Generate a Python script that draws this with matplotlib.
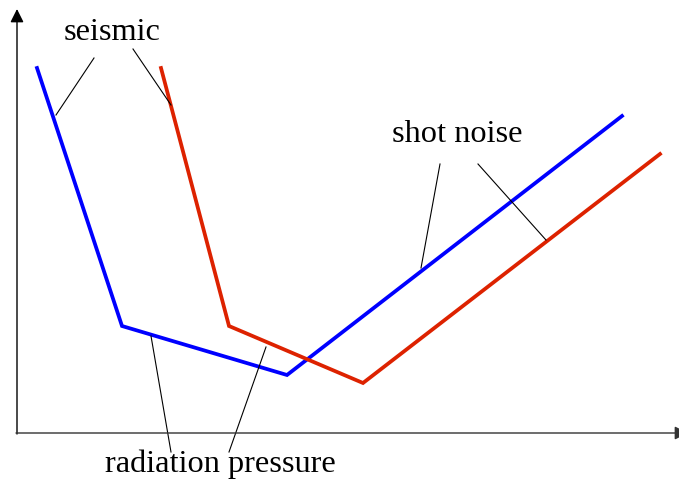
import matplotlib.pyplot as plt

# Noise curves (schematic, drawing units)
blue_x = [37, 122, 287, 622]
blue_y = [68, 326, 375, 116]
red_x = [161, 229, 363, 660]
red_y = [68, 326, 383, 154]

# Labels and their pointer lines: (text, text position, [(start, end), ...])
labels = [
    ("seismic", (112, 32), [((94, 58), (56, 115)), ((133, 49), (171, 105))]),
    ("shot noise", (457, 134), [((440, 164), (421, 268)), ((478, 164), (546, 240))]),
    ("radiation pressure", (220, 464), [((171, 452), (151, 336)), ((229, 452), (266, 347))]),
]

fig = plt.figure(figsize=(6.79, 4.79), dpi=100)
ax = fig.add_axes([0, 0, 1, 1])
ax.set_xlim(0, 679)
ax.set_ylim(479, 0)
ax.axis('off')

# Axes with arrow heads
ax.annotate('', xy=(17, 9), xytext=(17, 434), annotation_clip=False,
            arrowprops=dict(arrowstyle='-|>', color='black', lw=1.0,
                            mutation_scale=20, shrinkA=0, shrinkB=0))
ax.annotate('', xy=(688, 433), xytext=(16, 433), annotation_clip=False,
            arrowprops=dict(arrowstyle='-|>', color='#333333', lw=1.0,
                            mutation_scale=20, shrinkA=0, shrinkB=0))

ax.plot(blue_x, blue_y, color='#0000ff', lw=2.7, solid_joinstyle='miter')
ax.plot(red_x, red_y, color='#dd2200', lw=2.7, solid_joinstyle='miter')

for text, (tx, ty), pointers in labels:
    ax.text(tx, ty, text, fontsize=23.3, family='Liberation Serif',
            ha='center', va='center')
    for (x0, y0), (x1, y1) in pointers:
        ax.plot([x0, x1], [y0, y1], color='black', lw=0.8)

fig.savefig('out.png', dpi=100)
